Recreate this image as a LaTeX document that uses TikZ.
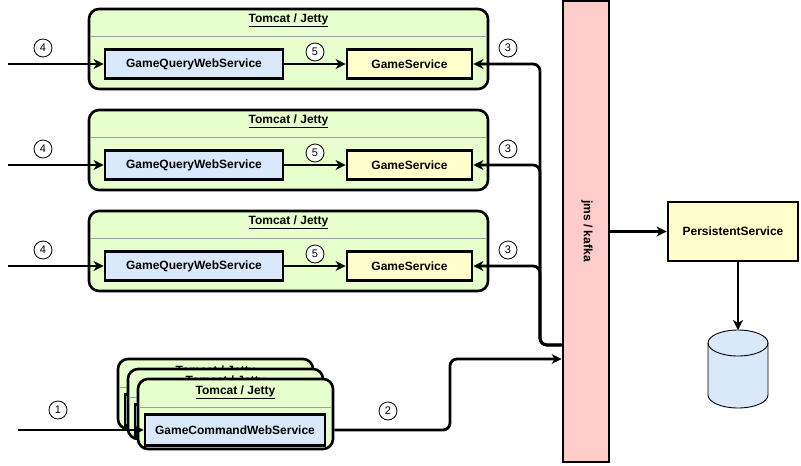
\documentclass[tikz,border=0pt]{standalone}
\usepackage{fontspec}
\setmainfont{Liberation Sans}
\usetikzlibrary{arrows.meta}
\definecolor{cgreen}{HTML}{E6FFCC}
\definecolor{cblue}{HTML}{DAE8FC}
\definecolor{cyell}{HTML}{FFFFCC}
\definecolor{cpink}{HTML}{FFCCCC}
\definecolor{csep}{HTML}{A0A0A0}
\begin{document}
\begin{tikzpicture}[x=1pt,y=-1pt,
  container/.style={draw, line width=2.6pt, fill=cgreen, rounded corners=10pt, inner sep=0pt},
  title/.style={font=\bfseries\fontsize{12}{14}\selectfont, inner sep=0pt},
  sepline/.style={draw=csep, line width=0.9pt},
  svcbox/.style={draw, line width=2.8pt, inner sep=0pt, font=\bfseries\fontsize{12}{14}\selectfont},
  qbox/.style={svcbox, fill=cblue, minimum width=178pt, minimum height=29pt},
  gbox/.style={svcbox, fill=cyell, minimum width=125pt, minimum height=29pt},
  num/.style={draw, circle, line width=0.8pt, fill=white, minimum size=18pt, inner sep=0pt, font=\fontsize{11}{12}\selectfont},
  arr/.style={draw, line width=2.8pt, -{Stealth[length=10pt,width=10pt,inset=3pt]}},
  ]
\useasboundingbox (0,0) rectangle (801,466);

% JMS / Kafka bus
\node[draw, line width=2.8pt, fill=cpink, minimum width=46pt, minimum height=461pt, inner sep=0pt] (jms) at (586,231.5) {};
\node[title, rotate=-90] (jmslabel) at (587,231) {jms / kafka};

% Query containers
\foreach \i/\t in {1/9,2/110,3/211}{
  \node[container, minimum width=399pt, minimum height=80pt] (c\i) at (288.5,\t+40) {};
  \node[title] (t\i) at (288.5,\t+11) {\underline{Tomcat / Jetty}};
  \draw[sepline] (90.5,\t+27) -- (486.5,\t+27);
  \node[qbox] (q\i) at (194,\t+55) {GameQueryWebService};
  \node[gbox] (g\i) at (409.5,\t+55) {GameService};
  \coordinate (in\i) at (8,\t+55);
  \draw[arr] (in\i) -- (q\i);
  \draw[arr] (q\i) -- (g\i);
  \node[num] (nf\i) at (43,\t+39) {4};
  \node[num] (nv\i) at (315,\t+43) {5};
  \node[num] (nt\i) at (508,\t+39) {3};
}
% connectors from the bus to the GameServices
\foreach \i/\t in {3/211,2/110,1/9}{
  \draw[arr, rounded corners=7pt] (jms.west |- 0,345) -| (540,\t+55) -- (g\i.east);
}

% Command containers (stacked)
\foreach \k/\d in {3/20,2/10}{
  \node[container, minimum width=195pt, minimum height=70pt] (cc\k) at (235.5-\d,414-\d) {};
  \node[title] (ct\k) at (235.5-\d,392-\d) {\underline{Tomcat / Jetty}};
  \draw[sepline] (139.5-\d,407-\d) -- (331.5-\d,407-\d);
  \node[svcbox, fill=cblue, minimum width=180pt, minimum height=31pt] (cmd\k) at (235-\d,430-\d) {};
}
\node[container, minimum width=195pt, minimum height=70pt] (cc1) at (235.5,414) {};
\node[title] (ct1) at (235.5,392) {\underline{Tomcat / Jetty}};
\draw[sepline] (139.5,407) -- (331.5,407);
\node[svcbox, fill=cblue, minimum width=180pt, minimum height=31pt] (cmd1) at (235,430) {GameCommandWebService};

\coordinate (in0) at (18,430);
\draw[arr] (in0) -- (cmd1);
\node[num] (n1) at (58,410) {1};
\draw[arr, rounded corners=7pt] (cc1.east |- cmd1) -| (450,359) -- (jms.west |- 0,359);
\node[num] (n2) at (388,411) {2};

% Persistent service
\node[svcbox, fill=cyell, minimum width=130pt, minimum height=59pt] (ps) at (733,231.5) {PersistentService};
\draw[arr] (jms.east |- ps) -- (ps);

% Database cylinder
\filldraw[fill=cblue, line width=0.9pt] (708,343) -- (708,395) arc[start angle=180, end angle=0, x radius=30, y radius=13] -- (768,343) arc[start angle=0, end angle=-180, x radius=30, y radius=13] -- cycle;
\draw[line width=0.9pt] (708,343) arc[start angle=180, end angle=0, x radius=30, y radius=13];
\coordinate (db) at (738,330);
\draw[arr] (db |- ps.south) -- (db);
\end{tikzpicture}
\end{document}
